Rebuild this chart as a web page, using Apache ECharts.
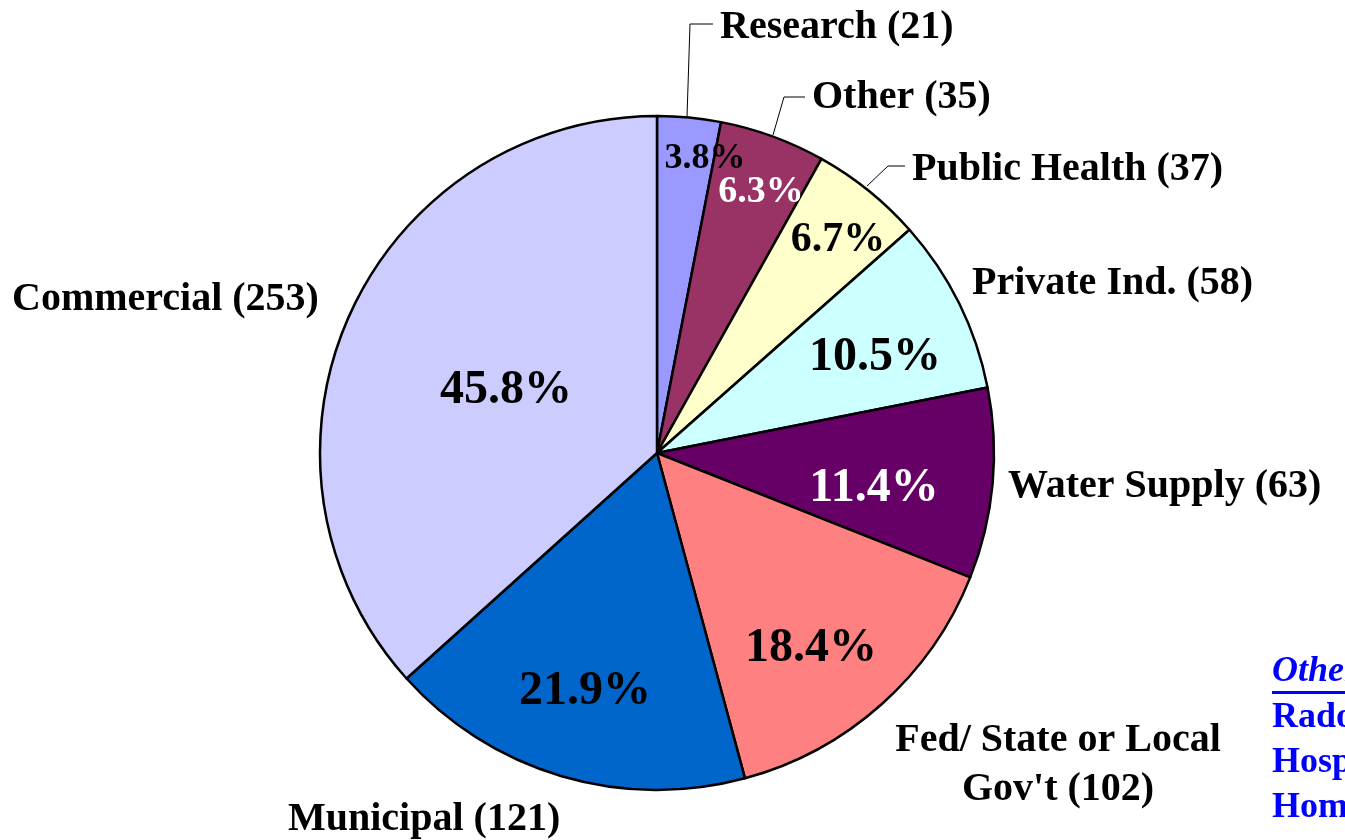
<!DOCTYPE html>
<html>
<head>
<meta charset="utf-8">
<script src="https://cdn.jsdelivr.net/npm/echarts@6/dist/echarts.min.js"></script>
<style>
html,body{margin:0;padding:0;background:#fff;}
#chart{width:1345px;height:840px;}
</style>
</head>
<body>
<div id="chart"></div>
<script>
// ---- data ----
const categories = ['Research', 'Other', 'Public Health', 'Private Ind.', 'Water Supply', "Fed/ State or Local\nGov't", 'Municipal', 'Commercial'];
const counts = [21, 35, 37, 58, 63, 102, 121, 253];
const percentLabels = ['3.8%', '6.3%', '6.7%', '10.5%', '11.4%', '18.4%', '21.9%', '45.8%'];
const otherNoteLines = ['Radon', 'Hospitals', 'Homeowners'];

// ---- styles / layout ----
const colors = ['#9999FF', '#993366', '#FFFFCC', '#CCFFFF', '#660066', '#FF8080', '#0066CC', '#CCCCFF'];
const pctColors = ['#000', '#fff', '#000', '#000', '#fff', '#000', '#000', '#000'];
const pctSizes = [36, 38, 42, 48, 48, 48, 48, 48];
const pctPos = [[705,159],[761,192],[838,240],[875,358],[874,489],[811,649],[585,692],[506,391]];
const outerPos = [[720,28,'left'],[812,98,'left'],[912,170,'left'],[972,284,'left'],[1008,487,'left'],[1058,765,'center'],[288,820,'left'],[12,300,'left']];
const leaderLines = [
  [[687,117],[690,24],[713,24]],
  [[773,135],[784,97],[805,97]],
  [[867,186],[888,166],[905,166]],
  null, null, null, null, null
];
const FONT = "'Liberation Serif','Times New Roman',serif";

const chart = echarts.init(document.getElementById('chart'));

const innerData = categories.map((c, i) => ({
  name: c, value: counts[i],
  itemStyle: { color: colors[i] },
  label: { color: pctColors[i], fontSize: pctSizes[i] }
}));
const outerData = categories.map((c, i) => ({
  name: c, value: counts[i],
  labelLine: { show: !!leaderLines[i] }
}));

chart.setOption({
  backgroundColor: '#fff',
  animation: false,
  series: [
    {
      type: 'pie',
      center: [657, 453],
      radius: [0, 337],
      startAngle: 90,
      clockwise: true,
      silent: true,
      itemStyle: { borderColor: '#000', borderWidth: 2.5 },
      label: {
        show: true, position: 'inside',
        fontFamily: FONT, fontWeight: 'bold',
        formatter: p => percentLabels[p.dataIndex]
      },
      labelLine: { show: false },
      labelLayout: p => ({ x: pctPos[p.dataIndex][0], y: pctPos[p.dataIndex][1], align: 'center', verticalAlign: 'middle' }),
      data: innerData
    },
    {
      type: 'pie',
      center: [657, 453],
      radius: [0, 337],
      startAngle: 90,
      clockwise: true,
      silent: true,
      z: 3,
      itemStyle: { color: 'rgba(0,0,0,0)', borderWidth: 0 },
      label: {
        show: true, position: 'outside',
        fontFamily: FONT, fontWeight: 'bold', fontSize: 40, color: '#000',
        lineHeight: 49, overflow: 'none', width: 600,
        formatter: p => p.name + ' (' + counts[p.dataIndex] + ')'
      },
      labelLine: { show: true, lineStyle: { color: '#000', width: 1 } },
      labelLayout: p => {
        const o = outerPos[p.dataIndex];
        const r = { x: o[0], y: o[1], align: o[2], verticalAlign: 'middle' };
        if (leaderLines[p.dataIndex]) r.labelLinePoints = leaderLines[p.dataIndex];
        return r;
      },
      data: outerData
    }
  ],
  graphic: [
    { type: 'text', left: 1272, top: 654, style: { text: 'Other:', font: "italic bold 36px " + FONT, fill: '#0000FF' } },
    { type: 'rect', shape: { x: 1272, y: 691, width: 80, height: 3 }, style: { fill: '#0000FF' } },
    ...otherNoteLines.map((t, i) => ({ type: 'text', left: 1272, top: 700 + i * 45, style: { text: t, font: "bold 36px " + FONT, fill: '#0000FF' } }))
  ]
});
</script>
</body>
</html>
